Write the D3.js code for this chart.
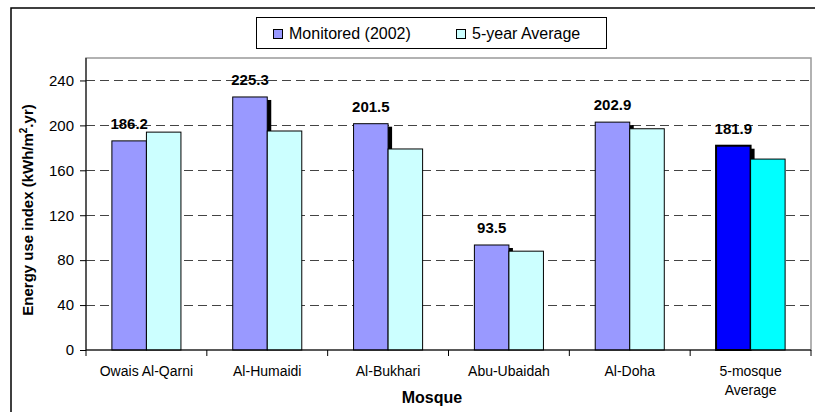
<!DOCTYPE html>
<meta charset="utf-8">
<style>
body { margin: 0; background: #fff; }
text { font-family: Arial, "Liberation Sans", sans-serif; fill: #000; }
</style>
<body>
<div id="chart"></div>
<script src="https://cdn.jsdelivr.net/npm/d3@7"></script>
<script>

var mosques = ['Owais Al-Qarni', 'Al-Humaidi', 'Al-Bukhari', 'Abu-Ubaidah', 'Al-Doha', '5-mosque Average'];
var tickLabels = [['Owais Al-Qarni'], ['Al-Humaidi'], ['Al-Bukhari'], ['Abu-Ubaidah'], ['Al-Doha'], ['5-mosque', 'Average']];
var seriesNames = ['Monitored (2002)', '5-year Average'];
var monitored = [186.2, 225.3, 201.5, 93.5, 202.9, 181.9];
var fiveYear = [194, 195, 179, 88, 197, 170];
var yTicks = [0, 40, 80, 120, 160, 200, 240];

var WIDTH = 815, HEIGHT = 412;
var PLOT_LEFT = 86, PLOT_RIGHT = 811, PLOT_TOP = 58, PLOT_BOTTOM = 350;

var MON_COLOR = '#9999FF', AVG_COLOR = '#CCFFFF';
var MON_HI = '#0000FF', AVG_HI = '#00FFFF';

var svg = d3.select('#chart').append('svg')
    .attr('width', WIDTH)
    .attr('height', HEIGHT);

// outer chart border (runs off the right/bottom edges)
svg.append('rect')
    .attr('x', 11).attr('y', 8)
    .attr('width', 840).attr('height', 440)
    .attr('fill', '#fff')
    .attr('stroke', '#000')
    .attr('stroke-width', 1.5);

var x = d3.scaleBand().domain(mosques).range([PLOT_LEFT, PLOT_RIGHT]).padding(0);
var xs = d3.scaleBand().domain(seriesNames).range([0, x.bandwidth()])
    .paddingInner(0).paddingOuter(0.75);
var y = d3.scaleLinear().domain([0, 260]).range([PLOT_BOTTOM, PLOT_TOP]);

// plot area frame
svg.append('rect')
    .attr('x', PLOT_LEFT).attr('y', PLOT_TOP)
    .attr('width', PLOT_RIGHT - PLOT_LEFT).attr('height', PLOT_BOTTOM - PLOT_TOP)
    .attr('fill', '#fff')
    .attr('stroke', '#999')
    .attr('stroke-width', 1.5);

// dashed gridlines
svg.selectAll('.grid')
    .data(yTicks.filter(function(d) { return d > 0; }))
    .enter().append('line')
    .attr('class', 'grid')
    .attr('x1', PLOT_LEFT).attr('x2', PLOT_RIGHT)
    .attr('y1', function(d) { return Math.round(y(d)) + 0.5; })
    .attr('y2', function(d) { return Math.round(y(d)) + 0.5; })
    .attr('stroke', '#444')
    .attr('stroke-width', 1)
    .attr('stroke-dasharray', '9,5');

// bars
var groups = svg.selectAll('.grp')
    .data(mosques)
    .enter().append('g')
    .attr('class', 'grp')
    .attr('transform', function(d) { return 'translate(' + x(d) + ',0)'; });

// shadow behind monitored bar
groups.append('rect')
    .attr('x', xs(seriesNames[0]) + 4)
    .attr('y', function(d, i) { return y(monitored[i]) + 3; })
    .attr('width', xs.bandwidth())
    .attr('height', function(d, i) { return y(0) - y(monitored[i]) - 3; })
    .attr('fill', '#000');

groups.append('rect')
    .attr('x', xs(seriesNames[0]))
    .attr('y', function(d, i) { return y(monitored[i]); })
    .attr('width', xs.bandwidth())
    .attr('height', function(d, i) { return y(0) - y(monitored[i]); })
    .attr('fill', function(d, i) { return i === 5 ? MON_HI : MON_COLOR; })
    .attr('stroke', '#000')
    .attr('stroke-width', function(d, i) { return i === 5 ? 2 : 1; });

groups.append('rect')
    .attr('x', xs(seriesNames[1]))
    .attr('y', function(d, i) { return y(fiveYear[i]); })
    .attr('width', xs.bandwidth())
    .attr('height', function(d, i) { return y(0) - y(fiveYear[i]); })
    .attr('fill', function(d, i) { return i === 5 ? AVG_HI : AVG_COLOR; })
    .attr('stroke', '#000')
    .attr('stroke-width', 1);

// value labels
groups.append('text')
    .attr('x', xs(seriesNames[0]) + xs.bandwidth() / 2)
    .attr('y', function(d, i) { return y(monitored[i]) - 12; })
    .attr('text-anchor', 'middle')
    .style('font-size', '15px')
    .style('font-weight', 'bold')
    .text(function(d, i) { return monitored[i].toFixed(1); });

// axes
var yAxis = svg.append('g')
    .attr('transform', 'translate(' + PLOT_LEFT + ',0)')
    .call(d3.axisLeft(y).tickValues(yTicks).tickSize(6).tickPadding(6));
yAxis.select('.domain').attr('stroke', '#000').attr('d', 'M0,' + PLOT_TOP + 'V' + PLOT_BOTTOM);
yAxis.selectAll('text').style('font-size', '15px').attr('font-family', null);

var xAxis = svg.append('g')
    .attr('transform', 'translate(0,' + PLOT_BOTTOM + ')');
xAxis.append('line')
    .attr('x1', PLOT_LEFT).attr('x2', PLOT_RIGHT)
    .attr('y1', 0).attr('y2', 0)
    .attr('stroke', '#000');
xAxis.selectAll('.xtick')
    .data(d3.range(mosques.length + 1))
    .enter().append('line')
    .attr('x1', function(i) { return i < mosques.length ? x(mosques[i]) : PLOT_RIGHT; })
    .attr('x2', function(i) { return i < mosques.length ? x(mosques[i]) : PLOT_RIGHT; })
    .attr('y1', 0).attr('y2', 6)
    .attr('stroke', '#000');
var xl = xAxis.selectAll('.xlab')
    .data(mosques)
    .enter().append('text')
    .attr('class', 'xlab')
    .attr('text-anchor', 'middle')
    .style('font-size', '14px');
xl.each(function(d, i) {
  var t = d3.select(this);
  tickLabels[i].forEach(function(line, j) {
    t.append('tspan')
      .attr('x', x(d) + x.bandwidth() / 2)
      .attr('y', 26 + j * 19)
      .text(line);
  });
});

// axis titles
svg.append('text')
    .attr('x', 432).attr('y', 403)
    .attr('text-anchor', 'middle')
    .style('font-size', '16px')
    .style('font-weight', 'bold')
    .text('Mosque');

var yt = svg.append('text')
    .attr('transform', 'translate(33,210) rotate(-90)')
    .attr('text-anchor', 'middle')
    .style('font-size', '15px')
    .style('font-weight', 'bold');
yt.append('tspan').text('Energy use index (kWh/m');
yt.append('tspan').attr('dy', -6).style('font-size', '10px').text('2');
yt.append('tspan').attr('dy', 6).text('.yr)');

// legend
var legend = svg.append('g');
legend.append('rect')
    .attr('x', 256.5).attr('y', 17.5)
    .attr('width', 350).attr('height', 31)
    .attr('fill', '#fff')
    .attr('stroke', '#000');
var legX = [273, 456];
seriesNames.forEach(function(s, i) {
  legend.append('rect')
    .attr('x', legX[i] + 0.5).attr('y', 29.5)
    .attr('width', 9).attr('height', 9)
    .attr('fill', i === 0 ? MON_COLOR : AVG_COLOR)
    .attr('stroke', '#000');
  legend.append('text')
    .attr('x', legX[i] + 16).attr('y', 39)
    .style('font-size', '16px')
    .text(s);
});

</script>
</body>
